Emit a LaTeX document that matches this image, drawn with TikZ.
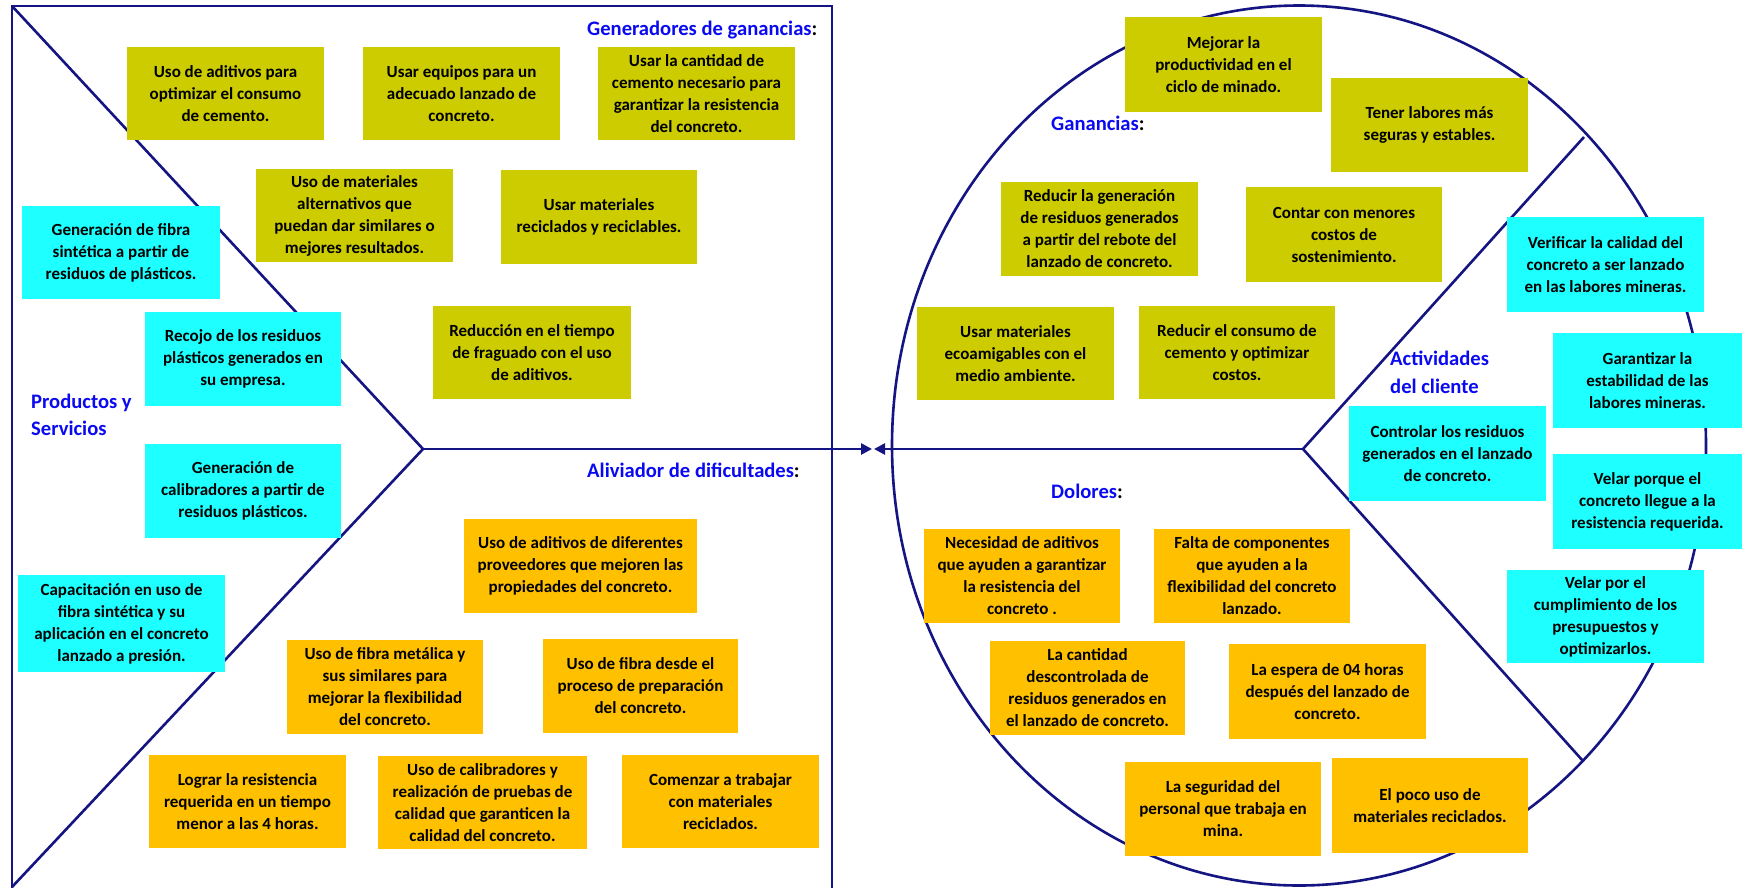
\documentclass[tikz,border=0pt]{standalone}
\usepackage{fontspec}
\setmainfont{Carlito}
\usetikzlibrary{arrows.meta}
\definecolor{cNavy}{RGB}{20,20,130}
\definecolor{cOlive}{RGB}{204,204,0}
\definecolor{cAmber}{RGB}{255,192,0}
\definecolor{cAqua}{RGB}{30,255,255}
\definecolor{cBlue}{RGB}{10,10,240}
\tikzset{
  frameline/.style={draw=cNavy, line width=2.6pt},
  box/.style={inner sep=0pt, align=center, font=\bfseries\fontsize{17}{22}\selectfont, text=black},
  gain/.style={box, fill=cOlive},
  pain/.style={box, fill=cAmber},
  act/.style={box, fill=cAqua},
  ttl/.style={inner sep=0pt, anchor=base west, font=\bfseries\fontsize{20.6}{24}\selectfont, text=cBlue},
  tip/.style={-{Triangle[length=11pt,width=11pt]}},
}
\newcommand\bx[7]{\node[#6, minimum width={#4-#2}, minimum height={#5-#3}] (#1) at ({(#2+#4)/2},{(#3+#5)/2}) {#7};}
\begin{document}
\begin{tikzpicture}[x=1pt,y=-1pt]
\path[use as bounding box] (0,0) rectangle (1742,887);
\clip (0,0) rectangle (1742,887);
\fill[white] (0,0) rectangle (1742,887);
% left frame
\coordinate (LTL) at (12,6);
\coordinate (LTR) at (832,6);
\coordinate (LBL) at (12,895);
\coordinate (LBR) at (832,895);
\coordinate (LBD) at (12,887);
\coordinate (LV) at (423,449);
\coordinate (LT) at (872,449);
\draw[frameline] (LBL) -- (LTL) -- (LTR) -- (LBR);
\draw[frameline] (LTL) -- (LV) -- (LBD);
\draw[frameline, tip] (LV) -- (LT);
% right circle
\draw[frameline] (1299,445.5) ellipse [x radius=407pt, y radius=440pt];
\coordinate (RV) at (1303,449);
\coordinate (RT) at (874,449);
\coordinate (RU) at (1584,137);
\coordinate (RD) at (1583,761);
\draw[frameline] (RU) -- (RV) -- (RD);
\draw[frameline, tip] (RV) -- (RT);
% titles
\node[ttl] (tgen) at (587,35) {Generadores de ganancias\textcolor{black}{:}};
\node[ttl] (tali) at (587,477) {Aliviador de dificultades\textcolor{black}{:}};
\node[ttl] (tgan) at (1051,130) {Ganancias\textcolor{black}{:}};
\node[ttl] (tdol) at (1051,498) {Dolores\textcolor{black}{:}};
\node[ttl] (tps1) at (31,408) {Productos y};
\node[ttl] (tps2) at (31,435) {Servicios};
\node[ttl] (tac1) at (1390,365) {Actividades};
\node[ttl] (tac2) at (1390,393) {del cliente};
% left boxes
\bx{g1}{127}{47}{324}{140}{gain}{Uso de aditivos para\\optimizar el consumo\\de cemento.}
\bx{g2}{363}{47}{560}{140}{gain}{Usar equipos para un\\adecuado lanzado de\\concreto.}
\bx{g3}{598}{47}{795}{140}{gain}{Usar la cantidad de\\cemento necesario para\\garantizar la resistencia\\del concreto.}
\bx{g4}{256}{169}{453}{262}{gain}{Uso de materiales\\alternativos que\\puedan dar similares o\\mejores resultados.}
\bx{g5}{501}{170}{697}{264}{gain}{Usar materiales\\reciclados y reciclables.}
\bx{g6}{433}{306}{631}{399}{gain}{Reducción en el tiempo\\de fraguado con el uso\\de aditivos.}
\bx{p1}{22}{206}{220}{299}{act}{Generación de fibra\\sintética a partir de\\residuos de plásticos.}
\bx{p2}{145}{312}{341}{406}{act}{Recojo de los residuos\\plásticos generados en\\su empresa.}
\bx{p3}{145}{444}{341}{538}{act}{Generación de\\calibradores a partir de\\residuos plásticos.}
\bx{p4}{18}{575}{225}{672}{act}{Capacitación en uso de\\fibra sintética y su\\aplicación en el concreto\\lanzado a presión.}
\bx{a1}{464}{519}{697}{613}{pain}{Uso de aditivos de diferentes\\proveedores que mejoren las\\propiedades del concreto.}
\bx{a2}{287}{640}{483}{734}{pain}{Uso de fibra metálica y\\sus similares para\\mejorar la flexibilidad\\del concreto.}
\bx{a3}{543}{639}{738}{733}{pain}{Uso de fibra desde el\\proceso de preparación\\del concreto.}
\bx{a4}{149}{755}{346}{848}{pain}{Lograr la resistencia\\requerida en un tiempo\\menor a las 4 horas.}
\bx{a5}{378}{756}{587}{849}{pain}{Uso de calibradores y\\realización de pruebas de\\calidad que garanticen la\\calidad del concreto.}
\bx{a6}{622}{755}{819}{848}{pain}{Comenzar a trabajar\\con materiales\\reciclados.}
% right boxes
\bx{r1}{1125}{17}{1322}{112}{gain}{Mejorar la\\productividad en el\\ciclo de minado.}
\bx{r2}{1331}{78}{1528}{172}{gain}{Tener labores más\\seguras y estables.}
\bx{r3}{1001}{182}{1198}{276}{gain}{Reducir la generación\\de residuos generados\\a partir del rebote del\\lanzado de concreto.}
\bx{r4}{1246}{187}{1442}{282}{gain}{Contar con menores\\costos de\\sostenimiento.}
\bx{r5}{917}{307}{1114}{400}{gain}{Usar materiales\\ecoamigables con el\\medio ambiente.}
\bx{r6}{1139}{306}{1335}{399}{gain}{Reducir el consumo de\\cemento y optimizar\\costos.}
\bx{c1}{1507}{217}{1704}{312}{act}{Verificar la calidad del\\concreto a ser lanzado\\en las labores mineras.}
\bx{c2}{1553}{333}{1742}{428}{act}{Garantizar la\\estabilidad de las\\labores mineras.}
\bx{c3}{1349}{406}{1546}{501}{act}{Controlar los residuos\\generados en el lanzado\\de concreto.}
\bx{c4}{1553}{454}{1742}{549}{act}{Velar porque el\\concreto llegue a la\\resistencia requerida.}
\bx{c5}{1507}{570}{1704}{663}{act}{Velar por el\\cumplimiento de los\\presupuestos y\\optimizarlos.}
\bx{d1}{924}{529}{1120}{623}{pain}{Necesidad de aditivos\\que ayuden a garantizar\\la resistencia del\\concreto .}
\bx{d2}{1154}{529}{1350}{623}{pain}{Falta de componentes\\que ayuden a la\\flexibilidad del concreto\\lanzado.}
\bx{d3}{990}{641}{1185}{735}{pain}{La cantidad\\descontrolada de\\residuos generados en\\el lanzado de concreto.}
\bx{d4}{1229}{644}{1426}{739}{pain}{La espera de 04 horas\\después del lanzado de\\concreto.}
\bx{d5}{1125}{762}{1321}{856}{pain}{La seguridad del\\personal que trabaja en\\mina.}
\bx{d6}{1332}{758}{1528}{853}{pain}{El poco uso de\\materiales reciclados.}
\end{tikzpicture}
\end{document}
